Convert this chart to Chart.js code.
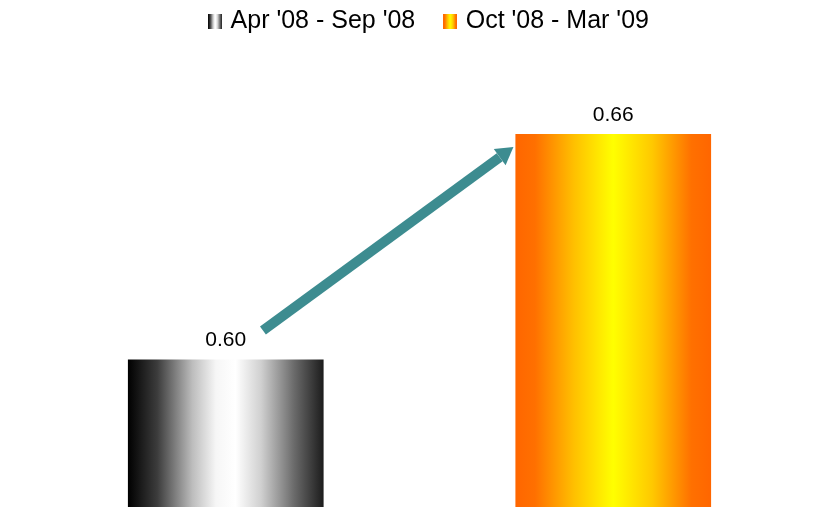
<!DOCTYPE html>
<html>
<head>
<meta charset="utf-8">
<script src="https://cdn.jsdelivr.net/npm/chart.js@4"></script>
<style>
  html, body { margin: 0; padding: 0; background: #fff; }
  #wrap { width: 823px; height: 507px; }
</style>
</head>
<body>
<div id="wrap"><canvas id="ratioChart" width="823" height="507"></canvas></div>
<script>
const categories = [''];
const periods = ["Apr '08 - Sep '08", "Oct '08 - Mar '09"];
const ratios = [0.60, 0.66];

// horizontal colour stops used for each bar (and its legend swatch)
const barStops = [
  [[0, '#000000'], [0.15, '#3c3c3c'], [0.33, '#bdbdbd'], [0.45, '#f6f6f6'], [0.55, '#ffffff'], [0.68, '#d0d0d0'], [0.85, '#6a6a6a'], [1, '#1c1c1c']],
  [[0, '#ff6600'], [0.1, '#ff7000'], [0.3, '#ffc000'], [0.5, '#ffff00'], [0.7, '#ffc800'], [0.9, '#ff7000'], [1, '#ff6600']]
];

const fontFamily = "'Liberation Sans', Arial, sans-serif";
const arrowColor = '#3d8c90';

function makeSwatch(stops) {
  const c = document.createElement('canvas');
  c.width = 14;
  c.height = 15;
  const g2 = c.getContext('2d');
  const g = g2.createLinearGradient(0, 0, 14, 0);
  stops.forEach(s => g.addColorStop(s[0], s[1]));
  g2.fillStyle = g;
  g2.fillRect(0, 0, 14, 15);
  return c;
}
const swatches = barStops.map(makeSwatch);

// paint each bar with a left-to-right gradient across its own width
const barGradients = {
  id: 'barGradients',
  beforeDatasetsDraw(chart) {
    const ctx = chart.ctx;
    chart.data.datasets.forEach((ds, i) => {
      chart.getDatasetMeta(i).data.forEach(bar => {
        const g = ctx.createLinearGradient(bar.x - bar.width / 2, 0, bar.x + bar.width / 2, 0);
        barStops[i].forEach(s => g.addColorStop(s[0], s[1]));
        bar.options = Object.assign({}, bar.options, { backgroundColor: g });
      });
    });
  }
};

// legend sits a little right of the plot centre
const legendNudge = {
  id: 'legendNudge',
  afterLayout(chart) {
    chart.legend.left += 11;
    chart.legend.right += 11;
  }
};

// value labels above the bars plus the trend arrow between them
const barExtras = {
  id: 'barExtras',
  afterDatasetsDraw(chart) {
    const ctx = chart.ctx;
    const bars = chart.data.datasets.map((ds, i) => chart.getDatasetMeta(i).data[0]);

    ctx.save();
    ctx.fillStyle = '#000';
    ctx.font = '21px ' + fontFamily;
    ctx.textAlign = 'center';
    ctx.textBaseline = 'middle';
    bars.forEach((bar, i) => {
      ctx.fillText(ratios[i].toFixed(2), bar.x, bar.y - 19);
    });

    const a = bars[0], b = bars[1];
    const x0 = a.x + a.width * 0.19, y0 = a.y - 29;
    const x1 = b.x - b.width / 2 - 2, y1 = b.y + 13;
    const ang = Math.atan2(y1 - y0, x1 - x0);
    const headLen = 17, headHalf = 10;
    const bx = x1 - headLen * Math.cos(ang), by = y1 - headLen * Math.sin(ang);

    ctx.strokeStyle = arrowColor;
    ctx.lineWidth = 10;
    ctx.lineCap = 'butt';
    ctx.beginPath();
    ctx.moveTo(x0, y0);
    ctx.lineTo(bx, by);
    ctx.stroke();

    ctx.fillStyle = arrowColor;
    ctx.beginPath();
    ctx.moveTo(x1, y1);
    ctx.lineTo(bx - headHalf * Math.sin(ang), by + headHalf * Math.cos(ang));
    ctx.lineTo(bx + headHalf * Math.sin(ang), by - headHalf * Math.cos(ang));
    ctx.closePath();
    ctx.fill();
    ctx.restore();
  }
};

const ctx = document.getElementById('ratioChart');
new Chart(ctx, {
  type: 'bar',
  data: {
    labels: categories,
    datasets: periods.map((p, i) => ({
      label: p,
      data: [ratios[i]],
      backgroundColor: barStops[i][0][1],
      borderWidth: 0
    }))
  },
  options: {
    responsive: false,
    animation: false,
    devicePixelRatio: 1,
    layout: {
      // pull the legend row up so the plot starts right under it
      padding: { top: -23, left: 32, right: 16, bottom: 0 }
    },
    datasets: {
      bar: { categoryPercentage: 1, barPercentage: 0.505 }
    },
    scales: {
      x: { display: false },
      y: { display: false, min: 0.5607, max: 0.684 }
    },
    plugins: {
      tooltip: { enabled: false },
      legend: {
        position: 'top',
        labels: {
          color: '#000',
          font: { family: fontFamily, size: 25 },
          usePointStyle: true,
          pointStyleWidth: 6,
          boxWidth: 14,
          boxHeight: 15,
          padding: 32,
          generateLabels(chart) {
            const items = Chart.defaults.plugins.legend.labels.generateLabels(chart);
            items.forEach((item, i) => { item.pointStyle = swatches[i]; });
            return items;
          }
        }
      }
    }
  },
  plugins: [barGradients, legendNudge, barExtras]
});
</script>
</body>
</html>
